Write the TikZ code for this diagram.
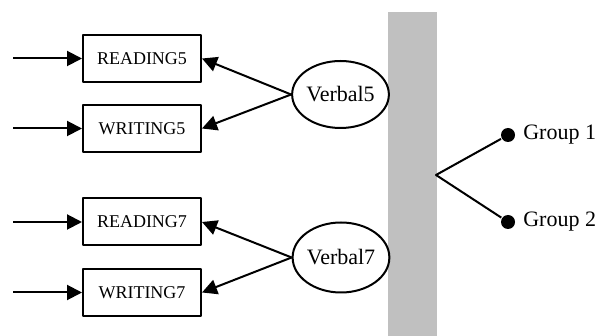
\documentclass[tikz,border=0pt]{standalone}
\usepackage{fontspec}
\setmainfont{Liberation Serif}
\usetikzlibrary{arrows.meta}
\usetikzlibrary{shapes.geometric}
\definecolor{barfill}{RGB}{192,192,192}
\tikzset{l/.style={font=\fontsize{18}{18}\selectfont}}
\tikzset{m/.style={font=\fontsize{22}{22}\selectfont}}
\tikzset{bx/.style={draw,l,minimum width=118pt,minimum height=47pt,inner sep=0pt}}
\tikzset{ov/.style={draw,ellipse,m,inner sep=0pt,minimum width=93pt,minimum height=67pt}}
\tikzset{dot/.style={circle,fill=black,inner sep=0pt,minimum size=14pt}}
\tikzset{arr/.style={-{Triangle[length=15pt,width=15pt]}}}

\begin{document}
\begin{tikzpicture}[x=1pt,y=-1pt,line width=2pt,line join=round]
          \useasboundingbox (0,0) rectangle (613,336);
          \fill[barfill] (388,12) rectangle (437,336);
          \node[bx] (R5) at (142,58.5) {READING5};
          \node[bx] (W5) at (142,128.5) {WRITING5};
          \node[bx] (R7) at (142,222) {READING7};
          \node[bx] (W7) at (142,292.5) {WRITING7};
          \coordinate (r5) at (13,58.5);
          \coordinate (w5) at (13,128.5);
          \coordinate (r7) at (13,222);
          \coordinate (w7) at (13,292.5);
          \draw[arr] (r5) -- (R5);
          \draw[arr] (w5) -- (W5);
          \draw[arr] (r7) -- (R7);
          \draw[arr] (w7) -- (W7);
          \node[ov] (V5) at (340.5,94.5) {Verbal5};
          \node[ov,minimum height=70pt] (V7) at (341,257.5) {Verbal7};
          \path (V5.west) edge [arr] (R5.east)
                          edge [arr] (W5.east);
          \path (V7.west) edge [arr] (R7.east)
                          edge [arr] (W7.east);
          \coordinate (fork) at (436,175);
          \node[dot,label={[m,label distance=3pt]right:Group 1}] (G1) at (508,135) {};
          \node[dot,label={[m,label distance=3pt]right:Group 2}] (G2) at (508,222) {};
          \draw (G1) -- (fork) -- (G2);
        \end{tikzpicture}
\end{document}
